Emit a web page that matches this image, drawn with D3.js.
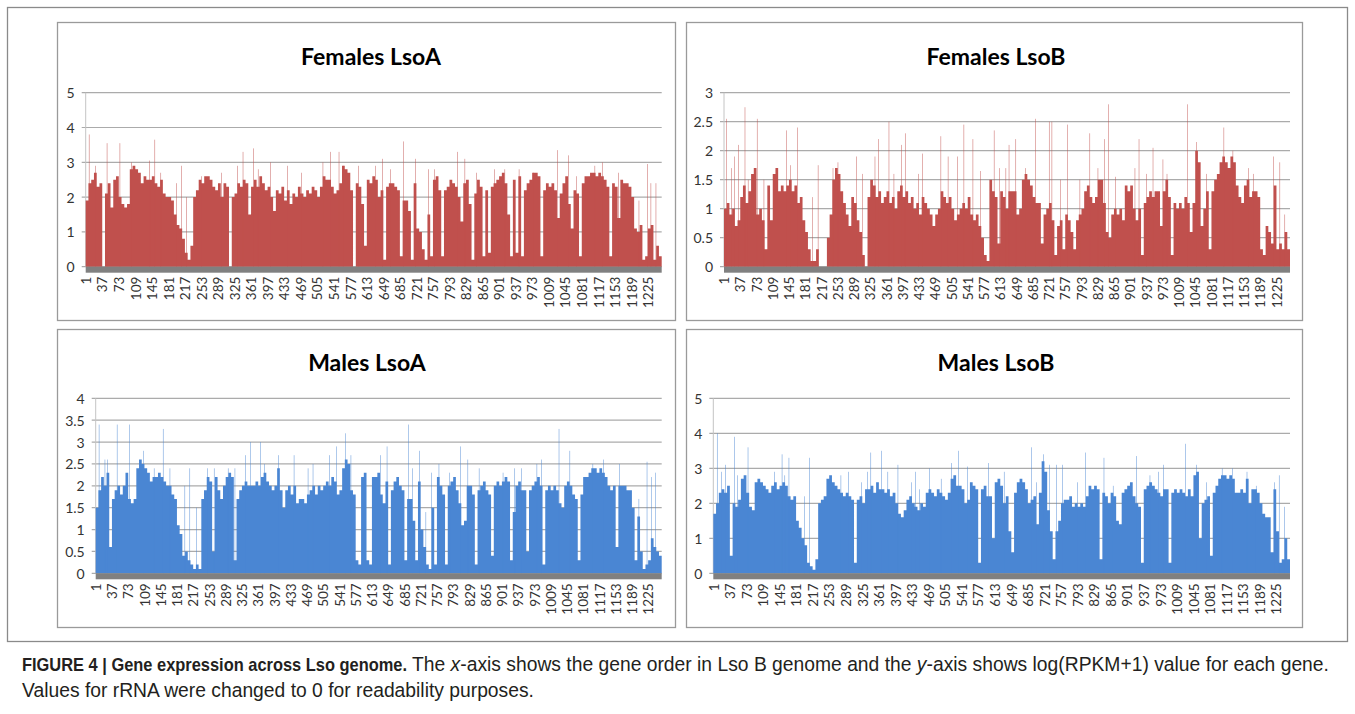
<!DOCTYPE html>
<html>
<head>
<meta charset="utf-8">
<script src="https://cdn.jsdelivr.net/npm/d3@7"></script>
<style>
  html, body { margin: 0; padding: 0; background: #fff; }
  svg { display: block; }
</style>
</head>
<body>
<svg id="fig" width="1355" height="714"></svg>
<script>
// --- Data: log(RPKM+1) per gene in groups of 6 genes ---
const N_GENES = 1254;
const BIN = 6;

const tickLabels = [1, 37, 73, 109, 145, 181, 217, 253, 289, 325, 361, 397, 433, 469, 505, 541, 577,
  613, 649, 685, 721, 757, 793, 829, 865, 901, 937, 973, 1009, 1045, 1081, 1117, 1153, 1189, 1225];

const femalesA = [
  1.9,2.4,2.5,2.7,2.3,2.4,0,2.1,2.4,1.7, 2.5,2.6,2.0,1.8,1.7,1.8,2.8,2.9,2.8,2.7,
  2.4,2.6,2.5,2.5,2.6,2.4,2.3,2.5,2.1,2.0, 2.0,1.9,1.5,1.2,1.1,0.8,0.4,0.2,0.6,2.0,
  2.2,2.5,2.4,2.6,2.6,2.5,2.3,2.2,2.4,2.0, 2.4,2.3,0,2.0,2.1,2.4,2.3,2.5,2.4,1.5,
  2.3,2.5,2.3,2.6,2.4,2.2,2.3,2.0,1.6,2.2, 2.1,2.3,1.9,2.2,1.8,2.1,2.0,2.3,2.1,2.0,
  2.2,2.1,2.3,2.2,2.0,2.3,2.6,2.5,2.5,2.3, 2.1,2.2,2.4,2.9,2.8,2.7,2.2,0,2.4,2.3,
  1.8,0.6,2.5,2.4,2.6,2.5,2.0,2.2,0.2,2.3, 2.4,2.4,2.3,2.2,0.3,1.9,1.9,1.6,0.2,2.4,
  1.1,1.0,0.5,0.2,1.5,0.3,2.5,2.6,2.2,0.3, 2.2,2.3,2.5,2.4,2.3,2.0,1.3,2.4,2.5,1.8,
  0.2,2.1,2.5,2.3,0.3,2.2,0.4,2.3,2.4,2.5, 2.6,2.7,2.4,1.5,0.3,2.5,0.4,2.6,0.3,2.2,
  2.4,2.5,2.7,2.7,2.6,0.3,2.2,2.4,2.3,2.4, 2.2,1.4,2.1,2.4,2.6,1.8,1.1,2.2,2.1,0.3,
  2.4,2.6,2.6,2.7,2.7,2.6,2.7,2.6,2.5,2.3, 0.3,2.4,2.3,1.4,2.5,2.4,2.4,2.3,2.0,1.1,
  1.0,1.2,0.2,0.3,1.1,1.2,0.2,0.6,0.3
];
const femalesAPeaks = [
  [8,3.8],[22,2.9],[47,3.55],[75,3.55],[100,3.0],[140,3.05],[151,3.65],[164,2.7],[198,2.4],[209,2.9],
  [220,2.0],[253,2.6],[296,2.7],[331,2.9],[343,3.3],[366,3.4],[376,2.8],[403,3.0],[440,2.9],[470,2.7],
  [517,3.0],[534,3.3],[552,3.3],[561,2.9],[594,2.9],[632,2.9],[647,3.1],[664,2.8],[692,3.6],[718,3.1],
  [747,2.8],[760,2.8],[810,3.3],[826,3.1],[851,2.7],[891,2.8],[913,2.8],[944,2.8],[975,2.7],[1028,3.35],
  [1052,3.2],[1069,2.6],[1109,2.9],[1125,3.0],[1160,2.7],[1205,1.9],[1223,2.95],[1231,2.4],[1242,2.4]
];

const femalesB = [
  1.0,1.1,0.9,1.0,0.7,0.8,1.2,1.4,1.1,1.3, 1.6,1.7,0.9,1.0,0.8,0.3,1.4,0.8,1.6,1.7,
  1.3,1.4,1.3,1.4,1.5,1.3,1.4,1.1,1.2,0.8, 0.6,0.3,0.1,0.1,0.3,0,0,0,0.5,0.9,
  1.5,1.7,1.6,1.3,1.1,0.9,0.7,1.2,1.1,0.8, 0.6,0.2,0,1.2,1.5,1.4,1.2,1.3,1.1,1.2,
  1.3,1.1,1.2,1.0,1.3,1.4,1.2,1.3,1.1,1.2, 1.0,1.1,0.9,1.2,1.1,1.0,0.9,0.7,0.9,1.0,
  1.3,1.2,1.1,1.2,1.0,0.8,0.9,1.0,1.1,1.0, 1.2,0.9,0.8,0.9,0.7,0.5,0.2,0.1,1.5,1.3,
  1.2,0.4,1.3,1.2,1.0,1.3,1.3,1.3,0.9,1.0, 1.5,1.6,1.5,1.4,1.2,1.1,1.1,0.4,0.9,1.0,
  1.1,0.8,0.2,0.7,0.8,0.3,0.9,0.8,0.6,0.3, 0.8,0.9,1.0,1.3,1.4,1.2,1.1,1.2,1.5,1.5,
  1.1,0.6,0.5,0.9,1.0,0.9,1.0,0.8,1.4,1.3, 1.4,1.0,0.8,1.0,0.2,1.1,1.2,1.3,1.2,1.3,
  1.3,0.7,1.3,1.5,1.2,0.2,1.1,1.0,1.1,1.0, 1.2,1.1,0.6,1.1,2.0,1.8,0.7,1.0,1.3,0.3,
  1.3,1.5,1.6,1.8,1.9,1.8,1.7,1.9,1.8,1.4, 1.2,1.1,1.4,1.5,1.2,1.3,1.3,1.2,0.3,0.2,
  0.7,0.6,0.4,1.4,0.3,0.4,0.3,0.6,0.3
];
const femalesBPeaks = [
  [6,2.55],[17,1.7],[24,1.9],[33,2.1],[47,2.75],[54,1.5],[74,2.55],[89,1.5],[139,2.35],[148,1.75],
  [163,2.4],[196,1.2],[209,1.75],[242,1.7],[253,1.8],[294,1.9],[307,1.6],[335,1.9],[343,2.2],[366,2.5],
  [377,1.6],[394,2.1],[402,2.3],[431,1.6],[440,1.95],[481,2.25],[497,1.9],[518,1.9],[532,2.45],[552,2.2],
  [569,1.65],[599,2.35],[611,1.7],[625,1.7],[632,2.1],[647,2.2],[669,1.7],[691,2.55],[721,2.5],[727,2.5],
  [746,1.5],[761,2.45],[789,1.5],[811,2.3],[829,1.7],[844,2.2],[852,2.8],[868,1.55],[911,1.7],[920,2.2],
  [936,1.6],[951,2.05],[973,1.85],[982,1.6],[1028,2.8],[1047,2.15],[1069,1.6],[1108,2.4],[1128,2.0],
  [1162,1.7],[1173,1.6],[1218,1.9],[1232,1.8],[1243,0.9]
];

const malesA = [
  1.5,1.9,2.2,2.0,2.3,0.6,1.7,1.9,2.0,1.8, 2.0,2.3,1.7,1.6,1.7,2.4,2.6,2.5,2.4,2.3,
  2.1,2.2,2.2,2.3,2.2,2.1,2.0,2.0,1.8,1.7, 1.1,0.9,0.4,0.5,0.3,0.2,0.1,0.2,0.1,1.7,
  1.9,2.2,2.1,0.5,2.2,1.9,1.7,2.0,2.2,2.3, 2.2,0.3,1.7,1.9,2.0,2.1,2.0,2.0,2.0,2.1,
  2.0,2.2,2.3,2.1,2.0,1.9,2.0,2.4,1.9,1.5, 1.9,2.0,1.8,2.0,1.6,1.7,1.7,1.6,1.8,1.9,
  2.0,1.8,2.0,1.9,2.0,2.1,2.0,2.2,2.1,1.8, 1.9,2.4,2.6,2.5,1.9,1.8,0.3,0.2,2.2,2.3,
  0.3,0.2,2.2,2.2,2.3,1.8,1.6,2.1,0.2,1.9, 2.1,2.2,2.0,1.9,0.3,1.7,1.7,1.2,0.3,2.1,
  1.0,0.6,0.2,0.1,1.5,0.2,2.2,2.0,1.8,0.2, 2.0,2.1,2.2,1.9,1.6,1.1,1.2,2.0,2.0,1.8,
  0.2,1.9,2.0,2.1,1.9,1.8,0.4,2.0,2.1,2.0, 2.1,2.2,2.1,0.3,1.4,2.0,2.1,1.9,1.9,0.5,
  1.9,2.0,2.1,2.2,2.0,0.2,1.9,2.0,1.9,2.0, 1.9,1.6,1.5,2.0,2.1,2.0,1.8,1.7,0.3,1.8,
  2.2,2.2,2.3,2.4,2.4,2.3,2.4,2.3,2.2,2.0, 1.9,2.0,0.6,2.0,2.0,2.0,1.9,1.9,1.5,0.3,
  1.3,0.5,0.1,0.2,0.3,0.8,0.6,0.5,0.4
];
const malesAPeaks = [
  [8,3.4],[21,2.6],[27,2.6],[48,3.4],[75,3.4],[106,2.8],[130,2.4],[150,3.3],[165,2.4],[198,2.0],
  [209,2.4],[224,1.5],[248,2.4],[263,2.4],[294,2.4],[309,2.4],[332,2.7],[344,3.0],[366,3.0],[375,2.5],
  [405,2.7],[440,2.7],[471,2.4],[482,2.5],[518,2.7],[534,2.9],[554,3.2],[566,2.7],[632,2.7],[646,2.9],
  [693,3.4],[702,2.4],[718,2.8],[732,1.4],[744,2.3],[761,2.5],[785,2.3],[809,2.9],[825,2.6],[850,2.4],
  [903,2.3],[929,2.4],[944,2.4],[978,2.5],[988,2.6],[1027,3.3],[1051,2.8],[1102,2.5],[1125,2.6],
  [1161,2.5],[1204,1.7],[1222,2.55],[1232,2.2],[1241,2.3]
];

const malesB = [
  1.7,2.0,2.3,2.4,2.3,2.5,0.5,2.0,1.9,2.1, 2.7,2.8,2.3,1.9,1.8,2.6,2.7,2.6,2.5,2.4,
  2.3,2.5,2.6,2.4,2.5,2.6,2.5,2.2,2.1,2.2, 1.5,1.3,1.0,0.8,0.3,0.2,0.1,0.4,2.0,2.1,
  2.2,2.7,2.8,2.6,2.5,2.4,2.3,2.2,2.3,2.2, 2.1,0.3,2.1,2.2,2.0,2.4,2.4,2.5,2.3,2.6,
  2.4,2.4,2.3,2.4,2.2,2.3,2.0,1.7,1.6,1.8, 2.1,2.2,2.0,1.9,1.8,2.0,1.9,2.3,2.4,2.3,
  2.2,2.4,2.3,2.2,2.1,2.3,2.7,2.8,2.5,2.5, 2.4,2.0,2.1,2.6,2.5,2.4,0.3,2.4,2.5,2.2,
  2.2,1.0,2.6,2.7,2.5,2.0,2.2,1.2,0.6,2.3, 2.6,2.7,2.6,2.4,2.0,2.1,2.2,1.4,2.3,3.2,
  2.9,1.8,1.2,0.4,1.2,1.5,2.0,2.1,2.1,2.2, 1.9,2.0,1.9,2.0,1.9,2.2,2.5,2.4,2.5,2.4,
  0.4,2.3,2.2,2.0,2.3,2.2,1.5,1.4,2.3,2.4, 2.5,2.6,2.2,2.0,1.9,0.3,2.4,2.5,2.6,2.5,
  2.4,2.3,2.2,2.4,2.4,0.3,2.3,2.4,2.3,2.4, 2.3,2.2,2.4,2.2,2.8,2.9,1.0,2.0,2.1,2.2,
  0.5,2.3,2.5,2.7,2.8,2.8,2.7,2.8,2.7,2.3, 2.3,2.4,2.3,2.7,2.0,2.4,2.4,2.3,2.0,1.7,
  1.6,1.6,0.6,2.4,1.2,0.3,0.4,1.0,0.4
];
const malesBPeaks = [
  [9,4.0],[18,2.9],[27,3.1],[47,3.9],[53,2.8],[76,3.6],[134,2.9],[150,3.4],[156,2.8],[165,3.3],
  [199,2.2],[210,3.3],[278,2.8],[294,2.9],[323,2.6],[336,2.9],[343,3.45],[366,3.5],[380,2.9],[402,3.1],
  [431,2.6],[440,2.9],[449,2.4],[471,3.0],[496,2.7],[518,3.15],[534,3.5],[553,3.05],[599,3.15],[633,2.9],
  [692,3.6],[703,2.6],[719,3.4],[731,3.1],[747,3.1],[760,3.1],[792,2.6],[810,3.45],[850,3.3],[870,2.5],
  [921,3.35],[950,2.8],[968,2.9],[979,3.1],[1027,3.7],[1051,3.1],[1073,2.6],[1107,3.0],[1129,3.0],
  [1161,2.9],[1181,2.5],[1221,2.6],[1231,2.8],[1243,1.9]
];

// --- Layout of the four panels ---
const RED = "#c0504d", BLUE = "#4a86d3";
const panels = [
  {title: "Females LsoA", values: femalesA, peaks: femalesAPeaks, yMax: 5, yStep: 1, color: RED,
   frame: [57.5, 22.5, 675.5, 320.5], plot: [85.7, 661.7, 92.7, 266.7], titleX: 371, titleY: 65},
  {title: "Females LsoB", values: femalesB, peaks: femalesBPeaks, yMax: 3, yStep: 0.5, color: RED,
   frame: [686.5, 22.5, 1302.5, 320.5], plot: [724, 1290, 92.7, 266.7], titleX: 996, titleY: 65},
  {title: "Males LsoA", values: malesA, peaks: malesAPeaks, yMax: 4, yStep: 0.5, color: BLUE,
   frame: [57.5, 329.5, 675.5, 627.5], plot: [95.7, 661.7, 398.3, 573.3], titleX: 367, titleY: 371},
  {title: "Males LsoB", values: malesB, peaks: malesBPeaks, yMax: 5, yStep: 1, color: BLUE,
   frame: [686.5, 329.5, 1302.5, 627.5], plot: [713.3, 1290, 398.3, 573.3], titleX: 996, titleY: 371}
];

const svg = d3.select("#fig");
svg.append("rect").attr("width", 1355).attr("height", 714).attr("fill", "#fff");

// outer figure frame
svg.append("rect")
  .attr("x", 7.5).attr("y", 7.5).attr("width", 1340).attr("height", 634)
  .attr("fill", "none").attr("stroke", "#8a8a8a").attr("stroke-width", 1.3);

panels.forEach(p => {
  const g = svg.append("g");
  const [fx0, fy0, fx1, fy1] = p.frame;
  const [px0, px1, pyTop, pyBottom] = p.plot;

  g.append("rect")
    .attr("x", fx0).attr("y", fy0).attr("width", fx1 - fx0).attr("height", fy1 - fy0)
    .attr("fill", "#fff").attr("stroke", "#9a9a9a").attr("stroke-width", 1.3);

  const x = d3.scaleLinear().domain([0, N_GENES]).range([px0, px1]);
  const y = d3.scaleLinear().domain([0, p.yMax]).range([pyBottom, pyTop]);
  const yTicks = d3.range(0, p.yMax + 1e-9, p.yStep);

  // gridlines + tick marks
  g.selectAll(".grid").data(yTicks).enter().append("line")
    .attr("x1", px0 - 4).attr("x2", px1)
    .attr("y1", d => y(d)).attr("y2", d => y(d))
    .attr("stroke", "#ababab").attr("stroke-width", 1.2);

  // y axis line
  g.append("line")
    .attr("x1", px0).attr("x2", px0).attr("y1", pyTop).attr("y2", pyBottom)
    .attr("stroke", "#c4c4c4").attr("stroke-width", 1);

  g.selectAll(".ylab").data(yTicks).enter().append("text")
    .attr("x", px0 - 11).attr("y", d => y(d))
    .attr("text-anchor", "end").attr("dominant-baseline", "central")
    .attr("font-family", "Lato, sans-serif").attr("font-size", 14).attr("fill", "#333")
    .text(d => d);

  // main mass: one value per 6-gene group, drawn as a step area
  const pts = p.values.map((v, i) => [i * BIN, v]);
  pts.push([p.values.length * BIN, p.values[p.values.length - 1]]);
  const area = d3.area()
    .x(d => x(d[0])).y0(y(0)).y1(d => y(d[1]))
    .curve(d3.curveStepAfter);
  g.append("path").datum(pts).attr("d", area).attr("fill", p.color);

  // single-gene spikes
  g.selectAll(".peak").data(p.peaks).enter().append("rect")
    .attr("x", d => x(d[0] - 1)).attr("width", d => x(d[0]) - x(d[0] - 1))
    .attr("y", d => y(d[1])).attr("height", d => y(0) - y(d[1]))
    .attr("fill", p.color);

  // category axis: dense tick marks merge into a gray band
  g.append("rect")
    .attr("x", x(0)).attr("y", y(0)).attr("width", x(N_GENES) - x(0)).attr("height", 6)
    .attr("fill", "#808080");

  g.selectAll(".xlab").data(tickLabels).enter().append("text")
    .attr("transform", d => `translate(${x(d - 0.5)},${y(0) + 10}) rotate(-90)`)
    .attr("text-anchor", "end").attr("dominant-baseline", "central")
    .attr("font-family", "Lato, sans-serif").attr("font-size", 13.5).attr("fill", "#333")
    .text(d => d);

  g.append("text")
    .attr("x", p.titleX).attr("y", p.titleY)
    .attr("text-anchor", "middle")
    .attr("font-family", "Lato, sans-serif").attr("font-weight", "bold").attr("font-size", 23)
    .attr("fill", "#000")
    .text(p.title);
});

// --- Caption (condensed bold face is not installed, so squeeze the bold lead-in) ---
const capFont = "'Liberation Sans', Arial, sans-serif";
svg.append("text")
  .attr("x", 22).attr("y", 671)
  .attr("font-family", capFont).attr("font-size", 19).attr("font-weight", "bold").attr("fill", "#231f20")
  .attr("textLength", 385).attr("lengthAdjust", "spacingAndGlyphs")
  .text("FIGURE 4 | Gene expression across Lso genome.");
const rest = svg.append("text")
  .attr("x", 412).attr("y", 671)
  .attr("font-family", capFont).attr("font-size", 19.3).attr("fill", "#231f20");
rest.append("tspan").text("The ");
rest.append("tspan").attr("font-style", "italic").text("x");
rest.append("tspan").text("-axis shows the gene order in Lso B genome and the ");
rest.append("tspan").attr("font-style", "italic").text("y");
rest.append("tspan").text("-axis shows log(RPKM+1) value for each gene.");
svg.append("text")
  .attr("x", 22).attr("y", 697)
  .attr("font-family", capFont).attr("font-size", 19.3).attr("fill", "#231f20")
  .text("Values for rRNA were changed to 0 for readability purposes.");
</script>
</body>
</html>
